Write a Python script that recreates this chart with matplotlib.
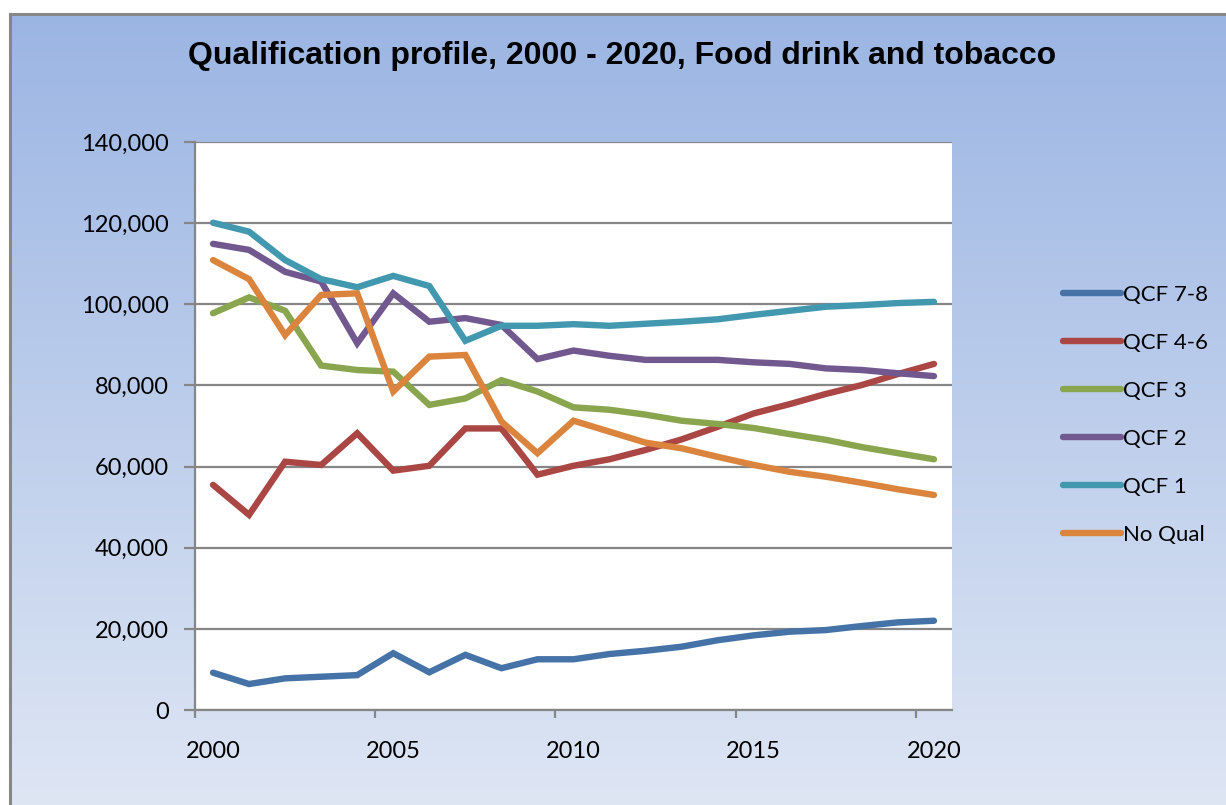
import numpy as np
import matplotlib
matplotlib.use('Agg')
import matplotlib.pyplot as plt
from matplotlib.lines import Line2D

years = list(range(2000, 2021))

qcf78 = [9200, 6400, 7800, 8200, 8600, 14000, 9300, 13600, 10300, 12500, 12500,
         13800, 14600, 15600, 17200, 18400, 19300, 19700, 20700, 21600, 22000]
qcf46 = [55500, 48100, 61200, 60400, 68200, 59000, 60200, 69400, 69400, 58000, 60200,
         61800, 64100, 66700, 69800, 73100, 75400, 77900, 80100, 82800, 85300]
qcf3 = [97800, 101700, 98400, 84900, 83800, 83400, 75200, 76800, 81300, 78500, 74600,
        74000, 72800, 71300, 70500, 69500, 68000, 66600, 64800, 63300, 61800]
qcf2 = [114900, 113400, 108000, 105600, 90400, 102700, 95700, 96600, 94900, 86500, 88600,
        87300, 86300, 86300, 86300, 85700, 85300, 84200, 83800, 83000, 82300]
qcf1 = [120100, 117900, 110900, 106200, 104200, 107000, 104500, 91000, 94700, 94700, 95100,
        94700, 95200, 95700, 96300, 97400, 98400, 99400, 99800, 100300, 100600]
noqual = [110900, 106200, 92400, 102300, 102700, 78500, 87100, 87500, 71100, 63300, 71300,
          68600, 65900, 64500, 62400, 60400, 58700, 57500, 56000, 54400, 53000]

series = [
    ('QCF 7-8', qcf78, '#4572A7'),
    ('QCF 4-6', qcf46, '#AA4643'),
    ('QCF 3', qcf3, '#89A54E'),
    ('QCF 2', qcf2, '#71588F'),
    ('QCF 1', qcf1, '#4198AF'),
    ('No Qual', noqual, '#DB843D'),
]

W, H = 1226, 805
fig = plt.figure(figsize=(W / 100, H / 100), dpi=100)
fig.patch.set_facecolor('white')

# gradient background behind everything
bg = fig.add_axes([0, 0, 1, 1], zorder=-5)
grad = np.linspace(0, 1, 256)[:, None]
top = np.array([155, 181, 227]) / 255
bot = np.array([222, 230, 244]) / 255
img = top[None, None, :] * (1 - grad[:, :, None]) + bot[None, None, :] * grad[:, :, None]
bg.imshow(img, aspect='auto', extent=[9 / W, 1, 0, 1 - 14 / H])
bg.set_xlim(0, 1)
bg.set_ylim(0, 1)
bg.axis('off')
bg.add_line(Line2D([9.5 / W, 9.5 / W], [0, 1 - 14.5 / H], color='#878787', lw=2.2))
bg.add_line(Line2D([9.5 / W, 1], [1 - 14.5 / H, 1 - 14.5 / H], color='#878787', lw=2.2))

ax = fig.add_axes([195 / W, (H - 710) / H, (952 - 195) / W, (710 - 142) / H])
ax.set_facecolor('white')

for name, vals, col in series:
    ax.plot(years, vals, color=col, lw=4.6, label=name, solid_capstyle='round',
            solid_joinstyle='miter', zorder=3)

ax.set_xlim(1999.5, 2020.5)
ax.set_ylim(0, 140000)
ax.set_yticks(range(0, 140001, 20000))
ax.set_yticklabels([f'{v:,}' for v in range(0, 140001, 20000)])
ax.yaxis.grid(True, color='#868686', lw=1.6, zorder=1)
ax.set_axisbelow(True)

ax.set_xticks(np.arange(1999.5, 2020.6, 5))
ax.set_xticklabels([])
ax.set_xticks([2000, 2005, 2010, 2015, 2020], minor=True)
ax.set_xticklabels(['2000', '2005', '2010', '2015', '2020'], minor=True)

for s in ['top', 'right']:
    ax.spines[s].set_visible(False)
for s in ['left', 'bottom']:
    ax.spines[s].set_color('#868686')
    ax.spines[s].set_linewidth(1.6)

ax.tick_params(axis='y', length=8, width=1.6, color='#868686', pad=11,
               labelsize=17, labelfontfamily='Lato')
ax.tick_params(axis='x', which='major', length=5.5, width=1.6, color='#868686')
ax.tick_params(axis='x', which='minor', length=0, pad=22, labelsize=17,
               labelfontfamily='Lato')

fig.text(622 / W, 1 - 56 / H, 'Qualification profile, 2000 - 2020, Food drink and tobacco',
         ha='center', va='center', fontsize=23, fontweight='bold',
         family='Liberation Sans')

handles = [Line2D([], [], color=c, lw=4.6, solid_capstyle='round') for _, _, c in series]
leg = fig.legend(handles, [n for n, _, _ in series], loc='upper left',
                 bbox_to_anchor=(1054 / W, 1 - 276 / H), frameon=False,
                 prop={'family': 'Lato', 'size': 16}, handlelength=2.6,
                 handletextpad=0.1, labelspacing=1.26, borderaxespad=0)

fig.savefig('out.png', dpi=100)
